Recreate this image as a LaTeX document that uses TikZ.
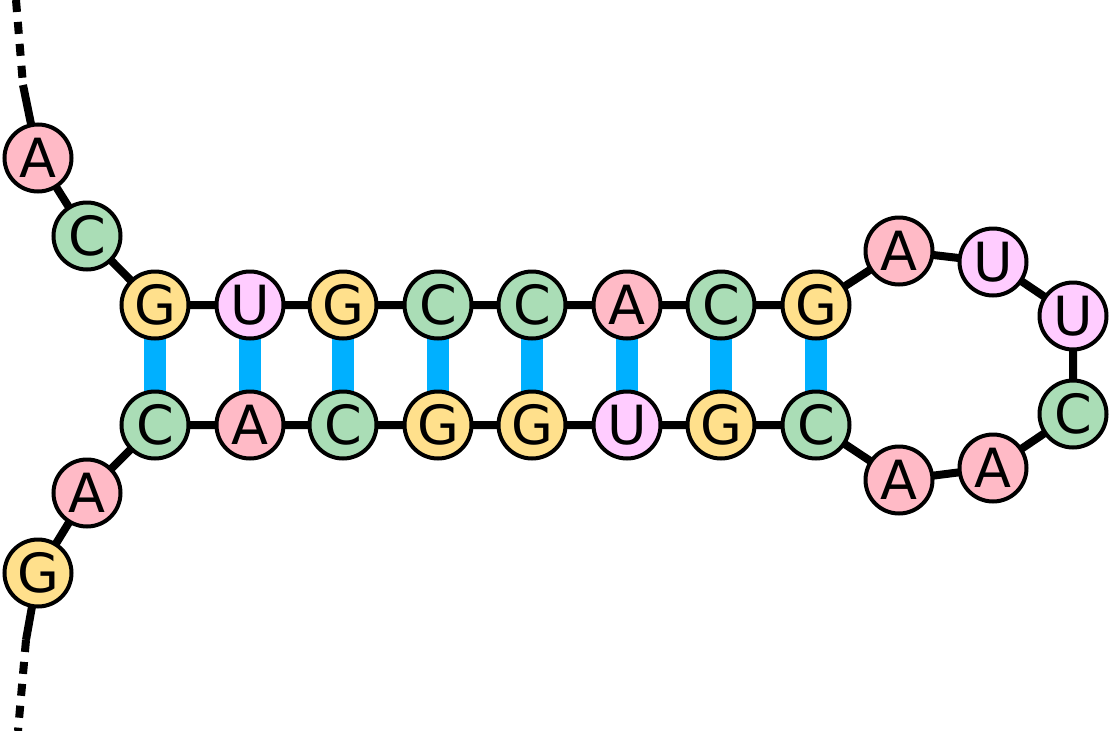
\documentclass[tikz,border=0pt]{standalone}
\usepackage{fontspec}
\setmainfont{DejaVu Sans}
\definecolor{pA}{HTML}{FFBAC6}
\definecolor{pC}{HTML}{AADDB6}
\definecolor{pG}{HTML}{FFE08C}
\definecolor{pU}{HTML}{FFCCFF}
\definecolor{bar}{HTML}{00B0FF}
\begin{document}
\begin{tikzpicture}[x=1pt,y=-1pt,
 nt/.style={circle,draw=black,line width=4pt,minimum size=67pt,inner sep=0pt,font=\fontsize{54}{54}\selectfont},
 A/.style={nt,fill=pA},C/.style={nt,fill=pC},G/.style={nt,fill=pG},U/.style={nt,fill=pU},
 bb/.style={line width=8pt,black},
 pair/.style={line width=22pt,bar},
 dashend/.style={line width=8pt,black,dash pattern=on 12pt off 10pt}]
\useasboundingbox (0,0) rectangle (1112,731);
\coordinate (d1) at (16,0); \coordinate (d2) at (23,85);
\coordinate (e1) at (26,640); \coordinate (e2) at (18,731);
\path (38,158) coordinate (p1) (87,236) coordinate (p2)
 (87,493) coordinate (p3) (38,573) coordinate (p4);
\foreach \x/\n in {155/t1,250/t2,343/t3,438/t4,532/t5,627/t6,721/t7,816/t8}{
 \coordinate (\n) at (\x,305); \coordinate (b\n) at (\x,425);}
\path (899,251) coordinate (l1) (993,262) coordinate (l2) (1073,316) coordinate (l3)
 (1073,414) coordinate (l4) (993,468) coordinate (l5) (899,480) coordinate (l6);
% backbone
\draw[dashend] (d1) -- (d2);
\draw[bb] (d2) -- (p1) -- (p2) -- (t1) -- (t2) -- (t3) -- (t4) -- (t5) -- (t6) -- (t7) -- (t8)
 -- (l1) -- (l2) -- (l3) -- (l4) -- (l5) -- (l6) -- (bt8) -- (bt7) -- (bt6) -- (bt5) -- (bt4)
 -- (bt3) -- (bt2) -- (bt1) -- (p3) -- (p4) -- (e1);
\draw[dashend] (e1) -- (e2);
\foreach \n in {t1,t2,t3,t4,t5,t6,t7,t8}{\draw[pair] (\n) -- (b\n);}
% nodes
\node[A] (n1) at (p1) {A}; \node[C] (n2) at (p2) {C};
\node[G] (n3) at (t1) {G}; \node[U] (n4) at (t2) {U}; \node[G] (n5) at (t3) {G};
\node[C] (n6) at (t4) {C}; \node[C] (n7) at (t5) {C}; \node[A] (n8) at (t6) {A};
\node[C] (n9) at (t7) {C}; \node[G] (n10) at (t8) {G};
\node[A] (n11) at (l1) {A}; \node[U] (n12) at (l2) {U}; \node[U] (n13) at (l3) {U};
\node[C] (n14) at (l4) {C}; \node[A] (n15) at (l5) {A}; \node[A] (n16) at (l6) {A};
\node[C] (n17) at (bt8) {C}; \node[G] (n18) at (bt7) {G}; \node[U] (n19) at (bt6) {U};
\node[G] (n20) at (bt5) {G}; \node[G] (n21) at (bt4) {G}; \node[C] (n22) at (bt3) {C};
\node[A] (n23) at (bt2) {A}; \node[C] (n24) at (bt1) {C};
\node[A] (n25) at (p3) {A}; \node[G] (n26) at (p4) {G};
\end{tikzpicture}
\end{document}
